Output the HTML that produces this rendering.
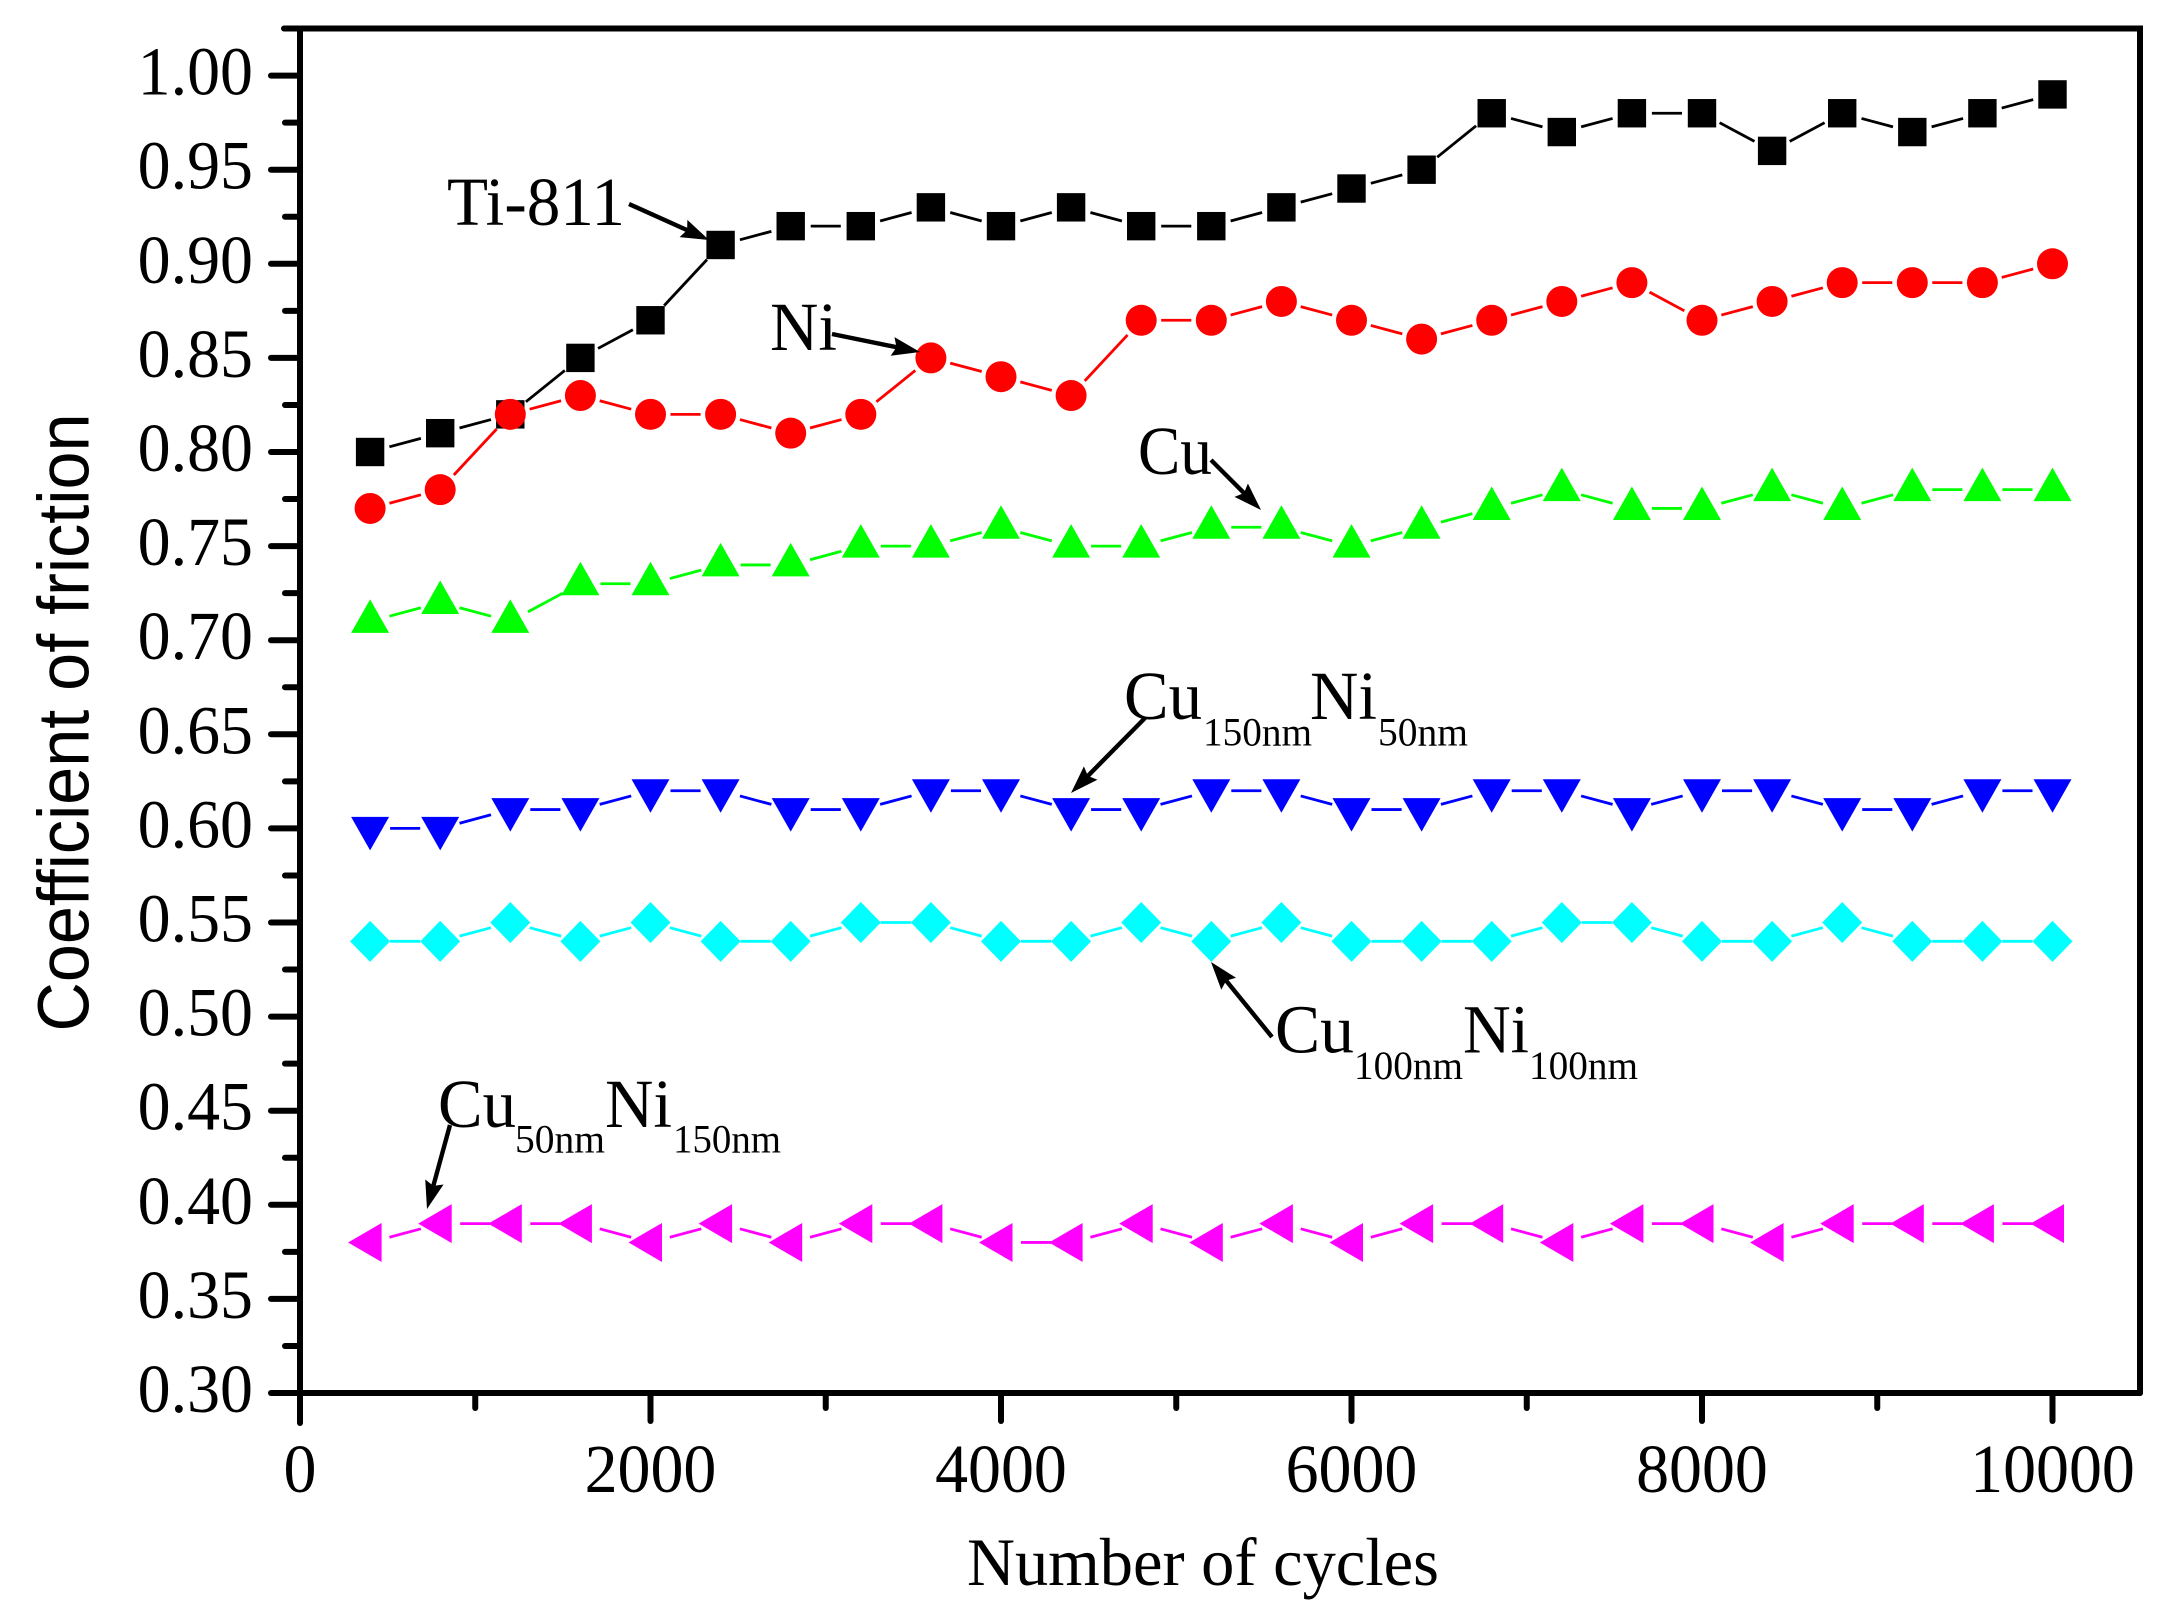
<!DOCTYPE html>
<html lang="en">
<head>
<meta charset="utf-8">
<title>Coefficient of friction vs number of cycles</title>
<style>
html,body{margin:0;padding:0;background:#fff;}
body{width:2168px;height:1608px;overflow:hidden;}
svg{display:block;}
text{fill:#000;}
.serif{font-family:"Liberation Serif",serif;}
.sans{font-family:"Liberation Sans",sans-serif;}
</style>
</head>
<body>
<svg id="chart" xmlns="http://www.w3.org/2000/svg" width="2168" height="1608" viewBox="0 0 2168 1608">
  <rect x="0" y="0" width="2168" height="1608" fill="#fff"/>
  <g id="series-layer"></g>
  <g id="axis-layer"></g>

  <text class="sans" transform="translate(88.5 1031.5) rotate(-90)" font-size="72" textLength="618" lengthAdjust="spacingAndGlyphs">Coefficient of friction</text>
  <text class="serif" x="967" y="1585" font-size="68" textLength="472" lengthAdjust="spacingAndGlyphs">Number of cycles</text>

  <g>
    <text class="serif" x="447" y="225" font-size="69" textLength="178" lengthAdjust="spacingAndGlyphs">Ti-811</text>
  </g>
  <g>
    <text class="serif" x="770" y="350" font-size="69" textLength="67" lengthAdjust="spacingAndGlyphs">Ni</text>
  </g>
  <g>
    <text class="serif" x="1138" y="474" font-size="69" textLength="74" lengthAdjust="spacingAndGlyphs">Cu</text>
  </g>
  <g>
    <text class="serif" x="1124" y="719" font-size="69" textLength="78" lengthAdjust="spacingAndGlyphs">Cu</text>
    <text class="serif" x="1203" y="745.5" font-size="40" textLength="109" lengthAdjust="spacingAndGlyphs">150nm</text>
    <text class="serif" x="1310" y="719" font-size="69" textLength="67" lengthAdjust="spacingAndGlyphs">Ni</text>
    <text class="serif" x="1378" y="745.5" font-size="40" textLength="90" lengthAdjust="spacingAndGlyphs">50nm</text>
  </g>
  <g>
    <text class="serif" x="1275" y="1052.5" font-size="69" textLength="79" lengthAdjust="spacingAndGlyphs">Cu</text>
    <text class="serif" x="1354" y="1079" font-size="40" textLength="109" lengthAdjust="spacingAndGlyphs">100nm</text>
    <text class="serif" x="1463" y="1052.5" font-size="69" textLength="66" lengthAdjust="spacingAndGlyphs">Ni</text>
    <text class="serif" x="1529" y="1079" font-size="40" textLength="109" lengthAdjust="spacingAndGlyphs">100nm</text>
  </g>
  <g>
    <text class="serif" x="438" y="1127" font-size="69" textLength="78" lengthAdjust="spacingAndGlyphs">Cu</text>
    <text class="serif" x="515" y="1152.5" font-size="40" textLength="90" lengthAdjust="spacingAndGlyphs">50nm</text>
    <text class="serif" x="605" y="1127" font-size="69" textLength="67" lengthAdjust="spacingAndGlyphs">Ni</text>
    <text class="serif" x="673" y="1152.5" font-size="40" textLength="108" lengthAdjust="spacingAndGlyphs">150nm</text>
  </g>
  <g id="arrow-layer"></g>
</svg>

<script>
// ---- data ----
const cycles = [400,800,1200,1600,2000,2400,2800,3200,3600,4000,4400,4800,5200,5600,6000,6400,6800,7200,7600,8000,8400,8800,9200,9600,10000];
const ti811Values = [0.80,0.81,0.82,0.85,0.87,0.91,0.92,0.92,0.93,0.92,0.93,0.92,0.92,0.93,0.94,0.95,0.98,0.97,0.98,0.98,0.96,0.98,0.97,0.98,0.99];
const niValues = [0.77,0.78,0.82,0.83,0.82,0.82,0.81,0.82,0.85,0.84,0.83,0.87,0.87,0.88,0.87,0.86,0.87,0.88,0.89,0.87,0.88,0.89,0.89,0.89,0.90];
const cuValues = [0.71,0.72,0.71,0.73,0.73,0.74,0.74,0.75,0.75,0.76,0.75,0.75,0.76,0.76,0.75,0.76,0.77,0.78,0.77,0.77,0.78,0.77,0.78,0.78,0.78];
const cu150Ni50Values = [0.60,0.60,0.61,0.61,0.62,0.62,0.61,0.61,0.62,0.62,0.61,0.61,0.62,0.62,0.61,0.61,0.62,0.62,0.61,0.62,0.62,0.61,0.61,0.62,0.62];
const cu100Ni100Values = [0.54,0.54,0.55,0.54,0.55,0.54,0.54,0.55,0.55,0.54,0.54,0.55,0.54,0.55,0.54,0.54,0.54,0.55,0.55,0.54,0.54,0.55,0.54,0.54,0.54];
const cu50Ni150Values = [0.38,0.39,0.39,0.39,0.38,0.39,0.38,0.39,0.39,0.38,0.38,0.39,0.38,0.39,0.38,0.39,0.39,0.38,0.39,0.39,0.38,0.39,0.39,0.39,0.39];
const yTickLabels = ["1.00","0.95","0.90","0.85","0.80","0.75","0.70","0.65","0.60","0.55","0.50","0.45","0.40","0.35","0.30"];
const yMinorTicks = [1.025,0.975,0.925,0.875,0.825,0.775,0.725,0.675,0.625,0.575,0.525,0.475,0.425,0.375,0.325];
const xTickLabels = ["0","2000","4000","6000","8000","10000"];
const xMinorTicks = [1000,3000,5000,7000,9000];

// ---- axis functions ----
const NS = "http://www.w3.org/2000/svg";
function xPos(v){ return 300 + (v / 2000) * 350.5; }
function yPos(v){ return 1393 - ((v - 0.30) / 0.05) * 94.1; }

function make(tag, attrs, parent){
  const el = document.createElementNS(NS, tag);
  for (const k in attrs) el.setAttribute(k, attrs[k]);
  parent.appendChild(el);
  return el;
}

// ---- marker shapes ----
function drawSquare(g, cx, cy, color){
  return make("rect", {x:cx-14.2, y:cy-14.2, width:28.4, height:28.4, fill:color}, g);
}
function drawCircle(g, cx, cy, color){
  return make("circle", {cx:cx, cy:cy, r:15.5, fill:color}, g);
}
function poly(g, pts, color){
  return make("polygon", {points:pts.map(p=>p[0]+","+p[1]).join(" "), fill:color}, g);
}
function drawUp(g, cx, cy, color){
  return poly(g, [[cx,cy-22],[cx+19,cy+11.5],[cx-19,cy+11.5]], color);
}
function drawDown(g, cx, cy, color){
  return poly(g, [[cx,cy+22],[cx+19,cy-11.5],[cx-19,cy-11.5]], color);
}
function drawDiamond(g, cx, cy, color){
  return poly(g, [[cx,cy-20.5],[cx+20,cy],[cx,cy+20.5],[cx-20,cy]], color);
}
function drawLeft(g, cx, cy, color){
  return poly(g, [[cx-22,cy],[cx+11.5,cy-19.5],[cx+11.5,cy+19.5]], color);
}

// ---- series ----
const seriesLayer = document.getElementById("series-layer");
function drawSeries(name, values, color, marker){
  const g = make("g", {}, seriesLayer);
  
  
  const gap = 20;
  for (let i = 0; i < values.length - 1; i++){
    const x1 = xPos(cycles[i]), y1 = yPos(values[i]);
    const x2 = xPos(cycles[i+1]), y2 = yPos(values[i+1]);
    const len = Math.hypot(x2-x1, y2-y1);
    const ux = (x2-x1)/len, uy = (y2-y1)/len;
    const seg = make("line", {x1:x1+ux*gap, y1:y1+uy*gap, x2:x2-ux*gap, y2:y2-uy*gap, stroke:color, "stroke-width":2.8}, g);
    
    
  }
  for (let i = 0; i < values.length; i++){
    const m = marker(g, xPos(cycles[i]), yPos(values[i]), color);
    
    
  }
}
drawSeries("series-ti-811", ti811Values, "#000000", drawSquare);
drawSeries("series-ni", niValues, "#ff0000", drawCircle);
drawSeries("series-cu", cuValues, "#00ff00", drawUp);
drawSeries("series-cu150-ni50", cu150Ni50Values, "#0000ff", drawDown);
drawSeries("series-cu100-ni100", cu100Ni100Values, "#00ffff", drawDiamond);
drawSeries("series-cu50-ni150", cu50Ni150Values, "#ff00ff", drawLeft);

// ---- axes ----
const axisLayer = document.getElementById("axis-layer");
const axisStroke = {stroke:"#000", "stroke-width":6, "stroke-linecap":"round", fill:"none"};
const topRight = make("path", Object.assign({d:"M" + 284 + " " + yPos(1.025) + " H" + 2140 + " V" + yPos(0.30)}, axisStroke), axisLayer);


const yAxisLine = make("line", Object.assign({x1:xPos(0), y1:yPos(1.025), x2:xPos(0), y2:1423}, axisStroke), axisLayer);


const xAxisLine = make("line", Object.assign({x1:xPos(0), y1:yPos(0.30), x2:2140, y2:yPos(0.30)}, axisStroke), axisLayer);



function condensedWidth(str, size){
  let w = 0;
  for (const c of str) w += (c === "." ? 0.25 : 0.5);
  return w * size * 0.955;
}

yTickLabels.forEach(function(label){
  const v = parseFloat(label);
  const t = make("line", Object.assign({x1:271, y1:yPos(v), x2:300, y2:yPos(v)}, axisStroke), axisLayer);
  
  
  const txt = make("text", {x:253, y:yPos(v)+19, "font-size":69, "text-anchor":"end", "class":"serif", textLength:condensedWidth(label,69), lengthAdjust:"spacingAndGlyphs"}, axisLayer);
  txt.textContent = label;
  
  
});
yMinorTicks.forEach(function(v){
  const t = make("line", Object.assign({x1:285, y1:yPos(v), x2:300, y2:yPos(v)}, axisStroke), axisLayer);
  
  
});
xTickLabels.forEach(function(label){
  const v = parseFloat(label);
  const t = make("line", Object.assign({x1:xPos(v), y1:yPos(0.30), x2:xPos(v), y2:1421}, axisStroke), axisLayer);
  
  
  const txt = make("text", {x:xPos(v), y:1492, "font-size":69, "text-anchor":"middle", "class":"serif", textLength:condensedWidth(label,69), lengthAdjust:"spacingAndGlyphs"}, axisLayer);
  txt.textContent = label;
  
  
});
xMinorTicks.forEach(function(v){
  const t = make("line", Object.assign({x1:xPos(v), y1:yPos(0.30), x2:xPos(v), y2:1408}, axisStroke), axisLayer);
  
  
});

// ---- annotation arrows ----
const arrowLayer = document.getElementById("arrow-layer");
function drawArrow(name, x1, y1, x2, y2){
  const g = make("g", {}, arrowLayer);
  
  
  const len = Math.hypot(x2-x1, y2-y1);
  const ux = (x2-x1)/len, uy = (y2-y1)/len;
  const px = -uy, py = ux;
  const headLen = 28, headHalf = 9.5, notch = 24;
  make("line", {x1:x1, y1:y1, x2:x2-ux*notch, y2:y2-uy*notch, stroke:"#000", "stroke-width":4.4}, g);
  const bx = x2-ux*headLen, by = y2-uy*headLen;
  const nx = x2-ux*notch, ny = y2-uy*notch;
  poly(g, [[x2,y2],[bx+px*headHalf,by+py*headHalf],[nx,ny],[bx-px*headHalf,by-py*headHalf]], "#000");
}
drawArrow("arrow-ti-811", 629, 204, 709, 240);
drawArrow("arrow-ni", 832, 334, 920, 352);
drawArrow("arrow-cu", 1211, 460, 1261, 510);
drawArrow("arrow-cu150-ni50", 1145, 718, 1071, 793);
drawArrow("arrow-cu100-ni100", 1272, 1037, 1211, 962);
drawArrow("arrow-cu50-ni150", 450, 1125, 427, 1209);
</script>
</body>
</html>
